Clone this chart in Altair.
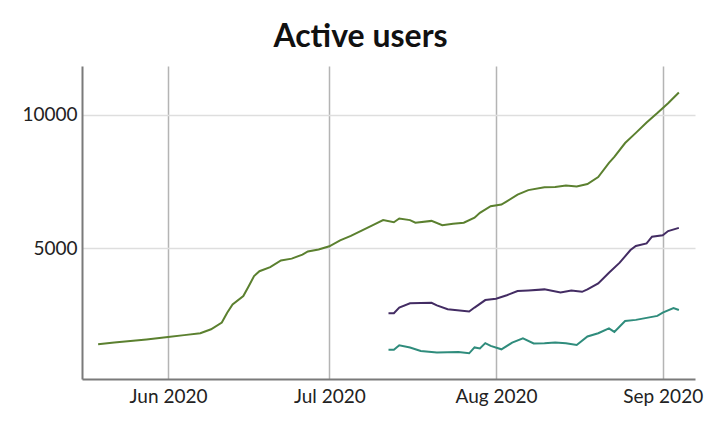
import altair as alt
import pandas as pd

# -----------------------------------------------------------------------------
# DATA
# -----------------------------------------------------------------------------

green_dates = [
    "2020-05-19", "2020-05-22", "2020-05-25", "2020-05-28", "2020-06-01",
    "2020-06-04", "2020-06-07", "2020-06-09", "2020-06-11", "2020-06-12",
    "2020-06-13", "2020-06-15", "2020-06-16", "2020-06-17", "2020-06-18",
    "2020-06-20", "2020-06-22", "2020-06-24", "2020-06-26", "2020-06-27",
    "2020-06-29", "2020-07-01", "2020-07-03", "2020-07-05", "2020-07-07",
    "2020-07-09", "2020-07-11", "2020-07-13", "2020-07-14", "2020-07-16",
    "2020-07-17", "2020-07-20", "2020-07-22", "2020-07-24", "2020-07-26",
    "2020-07-28", "2020-07-29", "2020-07-31", "2020-08-02", "2020-08-03",
    "2020-08-05", "2020-08-07", "2020-08-10", "2020-08-12", "2020-08-14",
    "2020-08-16", "2020-08-18", "2020-08-20", "2020-08-22", "2020-08-23",
    "2020-08-25", "2020-08-27", "2020-08-29", "2020-08-31", "2020-09-02",
    "2020-09-04",
]
green_values = [
    1420, 1480, 1540, 1600, 1690,
    1760, 1830, 1980, 2230, 2600,
    2910, 3220, 3590, 3970, 4150,
    4300, 4550, 4620, 4770, 4890,
    4960, 5080, 5300, 5470, 5670,
    5860, 6060, 5980, 6120, 6060,
    5960, 6030, 5870, 5920, 5960,
    6150, 6330, 6580, 6640, 6760,
    7010, 7180, 7290, 7300, 7350,
    7320, 7410, 7670, 8200, 8420,
    8940, 9320, 9710, 10060, 10430,
    10830,
]

purple_dates = [
    "2020-07-12", "2020-07-13", "2020-07-14", "2020-07-16", "2020-07-20",
    "2020-07-21", "2020-07-23", "2020-07-27", "2020-07-28", "2020-07-30",
    "2020-08-01", "2020-08-03", "2020-08-05", "2020-08-07", "2020-08-10",
    "2020-08-13", "2020-08-15", "2020-08-17", "2020-08-18", "2020-08-20",
    "2020-08-22", "2020-08-24", "2020-08-26", "2020-08-27", "2020-08-29",
    "2020-08-30", "2020-09-01", "2020-09-02", "2020-09-04",
]
purple_values = [
    2580, 2580, 2790, 2950, 2970,
    2870, 2730, 2640, 2790, 3070,
    3120, 3250, 3410, 3430, 3470,
    3350, 3430, 3380, 3470, 3690,
    4090, 4470, 4940, 5090, 5190,
    5440, 5490, 5650, 5770,
]

teal_dates = [
    "2020-07-12", "2020-07-13", "2020-07-14", "2020-07-16", "2020-07-18",
    "2020-07-21", "2020-07-25", "2020-07-27", "2020-07-28", "2020-07-29",
    "2020-07-30", "2020-07-31", "2020-08-02", "2020-08-04", "2020-08-06",
    "2020-08-08", "2020-08-10", "2020-08-12", "2020-08-14", "2020-08-16",
    "2020-08-18", "2020-08-20", "2020-08-22", "2020-08-23", "2020-08-25",
    "2020-08-27", "2020-08-31", "2020-09-01", "2020-09-03", "2020-09-04",
]
teal_values = [
    1210, 1210, 1380, 1300, 1170,
    1110, 1130, 1080, 1300, 1260,
    1460, 1360, 1230, 1480, 1640,
    1450, 1460, 1480, 1460, 1390,
    1710, 1830, 2010, 1880, 2290,
    2330, 2480, 2600, 2770, 2700,
]

series_names = ["series_1", "series_2", "series_3"]
series_colors = ["#5b802f", "#432c63", "#2f8c7c"]

month_ticks = ["2020-06-01", "2020-07-01", "2020-08-01", "2020-09-01"]
y_ticks = [5000, 10000]

# -----------------------------------------------------------------------------
# CHART
# -----------------------------------------------------------------------------

frames = []
for name, dates, values in zip(
    series_names,
    [green_dates, purple_dates, teal_dates],
    [green_values, purple_values, teal_values],
):
    frames.append(pd.DataFrame({"date": pd.to_datetime(dates), "users": values, "series": name}))
df = pd.concat(frames, ignore_index=True)

FONT = "Lato"

x_axis = alt.Axis(
    values=[pd.Timestamp(d).isoformat() for d in month_ticks],
    format="%b %Y",
    title=None,
    grid=True,
    gridColor="#b4b4b4",
    gridWidth=1.5,
    ticks=False,
    domainColor="#7a7a7a",
    domainWidth=2,
    labelFont=FONT,
    labelFontSize=19,
    labelColor="#222222",
    labelPadding=8,
)

y_axis = alt.Axis(
    values=y_ticks,
    format="d",
    title=None,
    grid=True,
    gridColor="#dedede",
    gridWidth=1.5,
    ticks=False,
    domainColor="#7a7a7a",
    domainWidth=2,
    labelFont=FONT,
    labelFontSize=19,
    labelColor="#222222",
    labelPadding=5,
)

lines = alt.Chart(df).mark_line(strokeWidth=2, interpolate="linear").encode(
    x=alt.X(
        "date:T",
        axis=x_axis,
        scale=alt.Scale(domain=["2020-05-16", "2020-09-07"]),
    ),
    y=alt.Y(
        "users:Q",
        axis=y_axis,
        scale=alt.Scale(domain=[120, 11820], nice=False, zero=False),
    ),
    color=alt.Color(
        "series:N",
        scale=alt.Scale(domain=series_names, range=series_colors),
        legend=None,
    ),
)

chart = lines.properties(
    width=613,
    height=313,
    autosize=alt.AutoSizeParams(type="none"),
    padding={"left": 74, "top": 58, "right": 15, "bottom": 38},
    title=alt.TitleParams(
        text="Active users",
        anchor="middle",
        font=FONT,
        fontSize=32,
        fontWeight="bold",
        color="#111111",
        offset=12,
        dx=-28,
    ),
).configure_view(stroke=None)

chart.save("out.html", embed_options={"renderer": "svg", "actions": False})
